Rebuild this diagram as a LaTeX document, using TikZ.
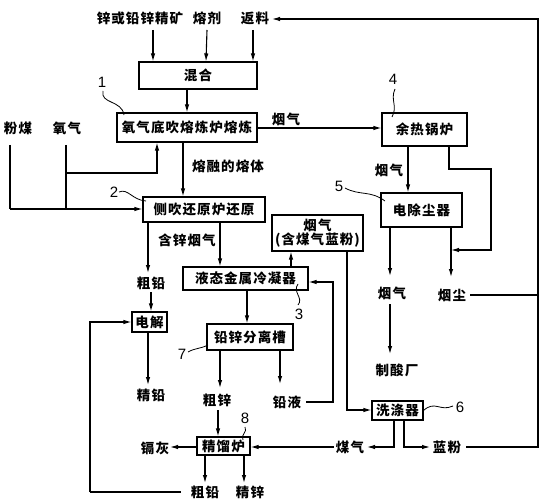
\documentclass[tikz,border=0pt]{standalone}
\usepackage{fontspec}
\setmainfont{Noto Sans CJK SC}[LetterSpace=8]
\newfontfamily\numfont{Liberation Sans}
\usetikzlibrary{arrows.meta}
\tikzset{
  box/.style={draw, line width=1.1pt, inner sep=0pt, font=\bfseries\fontsize{13.5}{15}\selectfont},
  lbl/.style={inner sep=0pt, font=\bfseries\fontsize{13.5}{15}\selectfont},
  num/.style={inner sep=0pt, font=\numfont\fontsize{15}{16}\selectfont},
  ln/.style={line width=1.1pt},
  arr/.style={line width=1.1pt, -{Latex[length=8pt,width=4.5pt]}},
  wave/.style={line width=0.8pt}
}
\begin{document}
\begin{tikzpicture}[x=1pt,y=-1pt]
\useasboundingbox (0,0) rectangle (541,500);
% boxes
\node[box, minimum width=118pt, minimum height=27pt] (mix) at (198,75.5) {混合};
\node[box, minimum width=140pt, minimum height=29pt] (smelt) at (187,127.5) {氧气底吹熔炼炉熔炼};
\node[box, minimum width=122pt, minimum height=25pt] (side) at (204,209.5) {侧吹还原炉还原};
\node[box, minimum width=125pt, minimum height=23pt] (cond) at (245.5,278.5) {液态金属冷凝器};
\node[box, minimum width=91pt, minimum height=36pt, align=center] (fume) at (317.5,233) {烟气\\[-1pt](含煤气蓝粉)};
\node[box, minimum width=35pt, minimum height=20pt] (elec) at (149.5,322) {电解};
\node[box, minimum width=86pt, minimum height=26pt] (sep) at (250,337) {铅锌分离槽};
\node[box, minimum width=53pt, minimum height=18pt] (dist) at (223.5,446) {精馏炉};
\node[box, minimum width=85pt, minimum height=33pt] (boiler) at (424.5,129.5) {余热锅炉};
\node[box, minimum width=81pt, minimum height=34pt] (esp) at (421.5,210) {电除尘器};
\node[box, minimum width=51pt, minimum height=19pt] (wash) at (397.5,410.5) {洗涤器};
% labels
\node[lbl] (ore) at (140,18) {锌或铅锌精矿};
\node[lbl] (flux) at (207,18) {熔剂};
\node[lbl] (ret) at (255,18) {返料};
\node[lbl] (gas1) at (286,119) {烟气};
\node[lbl] (coal) at (18,128) {粉煤};
\node[lbl] (oxy) at (67,128) {氧气};
\node[lbl] (melt) at (228,166) {熔融的熔体};
\node[lbl] (znfume) at (187,240) {含锌烟气};
\node[lbl] (pb1) at (151,283) {粗铅};
\node[lbl] (fpb) at (151,395) {精铅};
\node[lbl] (zn1) at (217,400) {粗锌};
\node[lbl] (pbliq) at (287,402) {铅液};
\node[lbl] (gas2) at (389,170) {烟气};
\node[lbl] (gas3) at (392,293) {烟气};
\node[lbl] (dust) at (452,295) {烟尘};
\node[lbl] (acid) at (397,370) {制酸厂};
\node[lbl] (cgas) at (350,447) {煤气};
\node[lbl] (blue) at (447,447) {蓝粉};
\node[lbl] (cd) at (155,448) {镉灰};
\node[lbl] (pb2) at (205,492) {粗铅};
\node[lbl] (fzn) at (250,492) {精锌};
% numbers
\node[num] (n1) at (102,82) {1};
\node[num] (n2) at (114,192) {2};
\node[num] (n3) at (299,314) {3};
\node[num] (n4) at (393,79) {4};
\node[num] (n5) at (339,186) {5};
\node[num] (n6) at (460,407) {6};
\node[num] (n7) at (182,354) {7};
\node[num] (n8) at (245,418) {8};
% waves
\draw[wave] (103,91) .. controls (100,104) and (122,100) .. (124,115);
\draw[wave] (119,192) .. controls (128,188) and (132,200) .. (146,201);
\draw[wave] (298,284) .. controls (292,292) and (304,298) .. (298,305);
\draw[wave] (395,89) .. controls (390,100) and (398,106) .. (392,117);
\draw[wave] (345,188) .. controls (360,196) and (370,190) .. (385,201);
\draw[wave] (wash.east) .. controls (435,400) and (440,412) .. (453,406);
\draw[wave] (188,352) .. controls (195,348) and (200,349) .. (208,345);
\draw[wave] (245,427) .. controls (248,432) and (240,435) .. (243,440);
% connectors
\draw[arr] (153,30) -- (153,0 |- mix.north);
\draw[arr] (flux.south |- 0,30) -- (206,0 |- mix.north);
\draw[arr] (253,30) -- (253,0 |- mix.north);
\draw[arr] (187,0 |- mix.south) -- (187,0 |- smelt.north);
\draw[arr] (183,0 |- smelt.south) -- (183,0 |- side.north);
\draw[ln] (10,145) -- (10,209);
\draw[arr] (10,209) -- (side.west |- 0,209);
\draw[ln] (66,145) -- (66,209);
\draw[arr] (66,173) -- (157,173) -- (157,0 |- smelt.south);
\draw[arr] (smelt.east |- 0,128) -- (boiler.west |- 0,128);
\draw[arr] (148,0 |- side.south) -- (148,273);
\draw[arr] (220,0 |- side.south) -- (220,0 |- cond.north);
\draw[arr] (151,292) -- (151,0 |- elec.north);
\draw[arr] (148,0 |- elec.south) -- (148,385);
\draw[arr] (291,0 |- cond.north) -- (291,0 |- fume.south);
\draw[arr] (247,0 |- cond.south) -- (247,0 |- sep.north);
\draw[arr] (220,0 |- sep.south) -- (220,388);
\draw[arr] (280,0 |- sep.south) -- (280,384);
\draw[arr] (306,402) -- (333,402) -- (333,282) -- (cond.east |- 0,282);
\draw[arr] (347,0 |- fume.south) -- (347,410) -- (wash.west |- 0,410);
\draw[arr] (394,0 |- wash.south) -- (394,447) -- (367,447);
\draw[arr] (334,447) -- (dist.east |- 0,447);
\draw[arr] (404,0 |- wash.south) -- (404,447) -- (430,447);
\draw[arr] (466,447) -- (538,447) -- (538,19) -- (272,19);
\draw[ln] (470,295) -- (538,295);
\draw[arr] (408,0 |- boiler.south) -- (408,0 |- esp.north);
\draw[arr] (449,0 |- boiler.south) -- (449,169) -- (491,169) -- (491,250) -- (451,250);
\draw[arr] (390,0 |- esp.south) -- (390,276);
\draw[arr] (451,0 |- esp.south) -- (451,277);
\draw[arr] (390,304) -- (390,354);
\draw[arr] (218,410) -- (218,0 |- dist.north);
\draw[arr] (dist.west |- 0,447) -- (170,447);
\draw[arr] (205,0 |- dist.south) -- (205,483);
\draw[arr] (244,0 |- dist.south) -- (244,483);
\draw[ln] (pb2.west |- 0,492) ++(-10,0) -- (90,492);
\draw[arr] (90,492) -- (90,322) -- (elec.west |- 0,322);
\end{tikzpicture}
\end{document}
